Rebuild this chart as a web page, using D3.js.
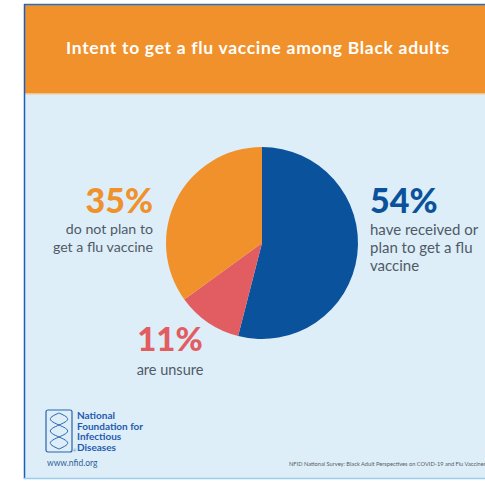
<!DOCTYPE html>
<html>
<head>
<meta charset="utf-8">
<script src="https://cdn.jsdelivr.net/npm/d3@7"></script>
<style>
  html, body { margin: 0; padding: 0; background: #ffffff; }
  svg { display: block; }
</style>
</head>
<body>
<svg id="chart" width="485" height="481"></svg>
<script>
// ---- data ----
const categories = ["have received or plan to get a flu vaccine", "are unsure", "do not plan to get a flu vaccine"];
const values = [54, 11, 35];
const percentLabels = ["54%", "11%", "35%"];
const labelLines = [
  ["have received or", "plan to get a flu", "vaccine"],
  ["are unsure"],
  ["do not plan to", "get a flu vaccine"]
];
const titleText = "Intent to get a flu vaccine among Black adults";
const logoLines = ["National", "Foundation for", "Infectious", "Diseases"];
const siteText = "www.nfid.org";
const sourceText = "NFID National Survey: Black Adult Perspectives on COVID-19 and Flu Vaccines";

// ---- styles ----
const sliceColors = ["#0b529c", "#e25d62", "#f0912b"];
const W = 485, H = 481;
const svg = d3.select("#chart");
const FONT = "Lato, 'Open Sans', sans-serif";

// panel background
svg.append("rect").attr("x", 24).attr("y", 4).attr("width", W - 24).attr("height", 475)
  .attr("fill", "#ddeef8");
// header band
svg.append("rect").attr("x", 24).attr("y", 5).attr("width", W - 24).attr("height", 88)
  .attr("fill", "#f0912b");
svg.append("rect").attr("x", 24).attr("y", 93).attr("width", W - 24).attr("height", 1.5)
  .attr("fill", "#f4c48c");
// borders
svg.append("line").attr("x1", 24).attr("x2", W).attr("y1", 4.5).attr("y2", 4.5)
  .attr("stroke", "#2a6fc4").attr("stroke-width", 1.5);
svg.append("line").attr("x1", 24.5).attr("x2", 24.5).attr("y1", 4).attr("y2", 479)
  .attr("stroke", "#1d5fb8").attr("stroke-width", 1.5);
svg.append("line").attr("x1", 24).attr("x2", W).attr("y1", 478.5).attr("y2", 478.5)
  .attr("stroke", "#9ccbec").attr("stroke-width", 1.5);

// title
svg.append("text").attr("x", 258).attr("y", 54).attr("text-anchor", "middle")
  .attr("fill", "#ffffff").attr("font-family", FONT).attr("font-weight", 700)
  .attr("font-size", 17.5).attr("letter-spacing", 0.7).text(titleText);

// pie
const cx = 262, cy = 243, r = 96;
const pie = d3.pie().sort(null).value(d => d)(values);
const arc = d3.arc().innerRadius(0).outerRadius(r);
const g = svg.append("g").attr("transform", `translate(${cx},${cy})`);
g.selectAll("path").data(pie).join("path")
  .attr("d", arc).attr("fill", (d, i) => sliceColors[i]);

// labels
const labelSpecs = [
  { x: 370, y: 213, anchor: "start", size: 34, gap: 22, fs: 15 },
  { x: 170, y: 351, anchor: "middle", size: 33, gap: 24, fs: 14.5 },
  { x: 153, y: 213, anchor: "end", size: 34, gap: 21, fs: 14.2 }
];
percentLabels.forEach((p, i) => {
  const s = labelSpecs[i];
  svg.append("text").attr("x", s.x).attr("y", s.y).attr("text-anchor", s.anchor)
    .attr("fill", sliceColors[i]).attr("font-family", FONT).attr("font-weight", 900)
    .attr("font-size", s.size).text(p);
  labelLines[i].forEach((line, j) => {
    svg.append("text").attr("x", s.x).attr("y", s.y + s.gap + j * 18).attr("text-anchor", s.anchor)
      .attr("fill", "#505a66").attr("font-family", FONT).attr("font-weight", 400)
      .attr("font-size", s.fs).text(line);
  });
});

// logo box with helix
const lg = svg.append("g").attr("transform", "translate(46,410)");
lg.append("rect").attr("x", 0).attr("y", 0).attr("width", 26).attr("height", 42).attr("rx", 2)
  .attr("fill", "none").attr("stroke", "#2b63ad").attr("stroke-width", 1.2);
const helix1 = d3.line().curve(d3.curveBasis);
const pts1 = [], pts2 = [];
for (let k = 0; k <= 20; k++) {
  const t = k / 20;
  pts1.push([13 + 9 * Math.sin(t * Math.PI * 3), 3 + t * 36]);
  pts2.push([13 - 9 * Math.sin(t * Math.PI * 3), 3 + t * 36]);
}
lg.append("path").attr("d", helix1(pts1)).attr("fill", "none").attr("stroke", "#2b63ad").attr("stroke-width", 1);
lg.append("path").attr("d", helix1(pts2)).attr("fill", "none").attr("stroke", "#2b63ad").attr("stroke-width", 1);
lg.append("text").attr("x", 27).attr("y", 42).attr("font-family", FONT).attr("font-size", 4)
  .attr("fill", "#2b63ad").text("®");
logoLines.forEach((line, j) => {
  svg.append("text").attr("x", 77).attr("y", 419 + j * 10.5)
    .attr("fill", "#1f5bb0").attr("font-family", FONT).attr("font-weight", 700)
    .attr("font-size", 10).text(line);
});
svg.append("text").attr("x", 47).attr("y", 466).attr("fill", "#2f5f9c")
  .attr("font-family", FONT).attr("font-size", 8.5).text(siteText);

// source
svg.append("text").attr("x", 289).attr("y", 466).attr("fill", "#555d66")
  .attr("font-family", FONT).attr("font-size", 5.7).text(sourceText);
</script>
</body>
</html>
